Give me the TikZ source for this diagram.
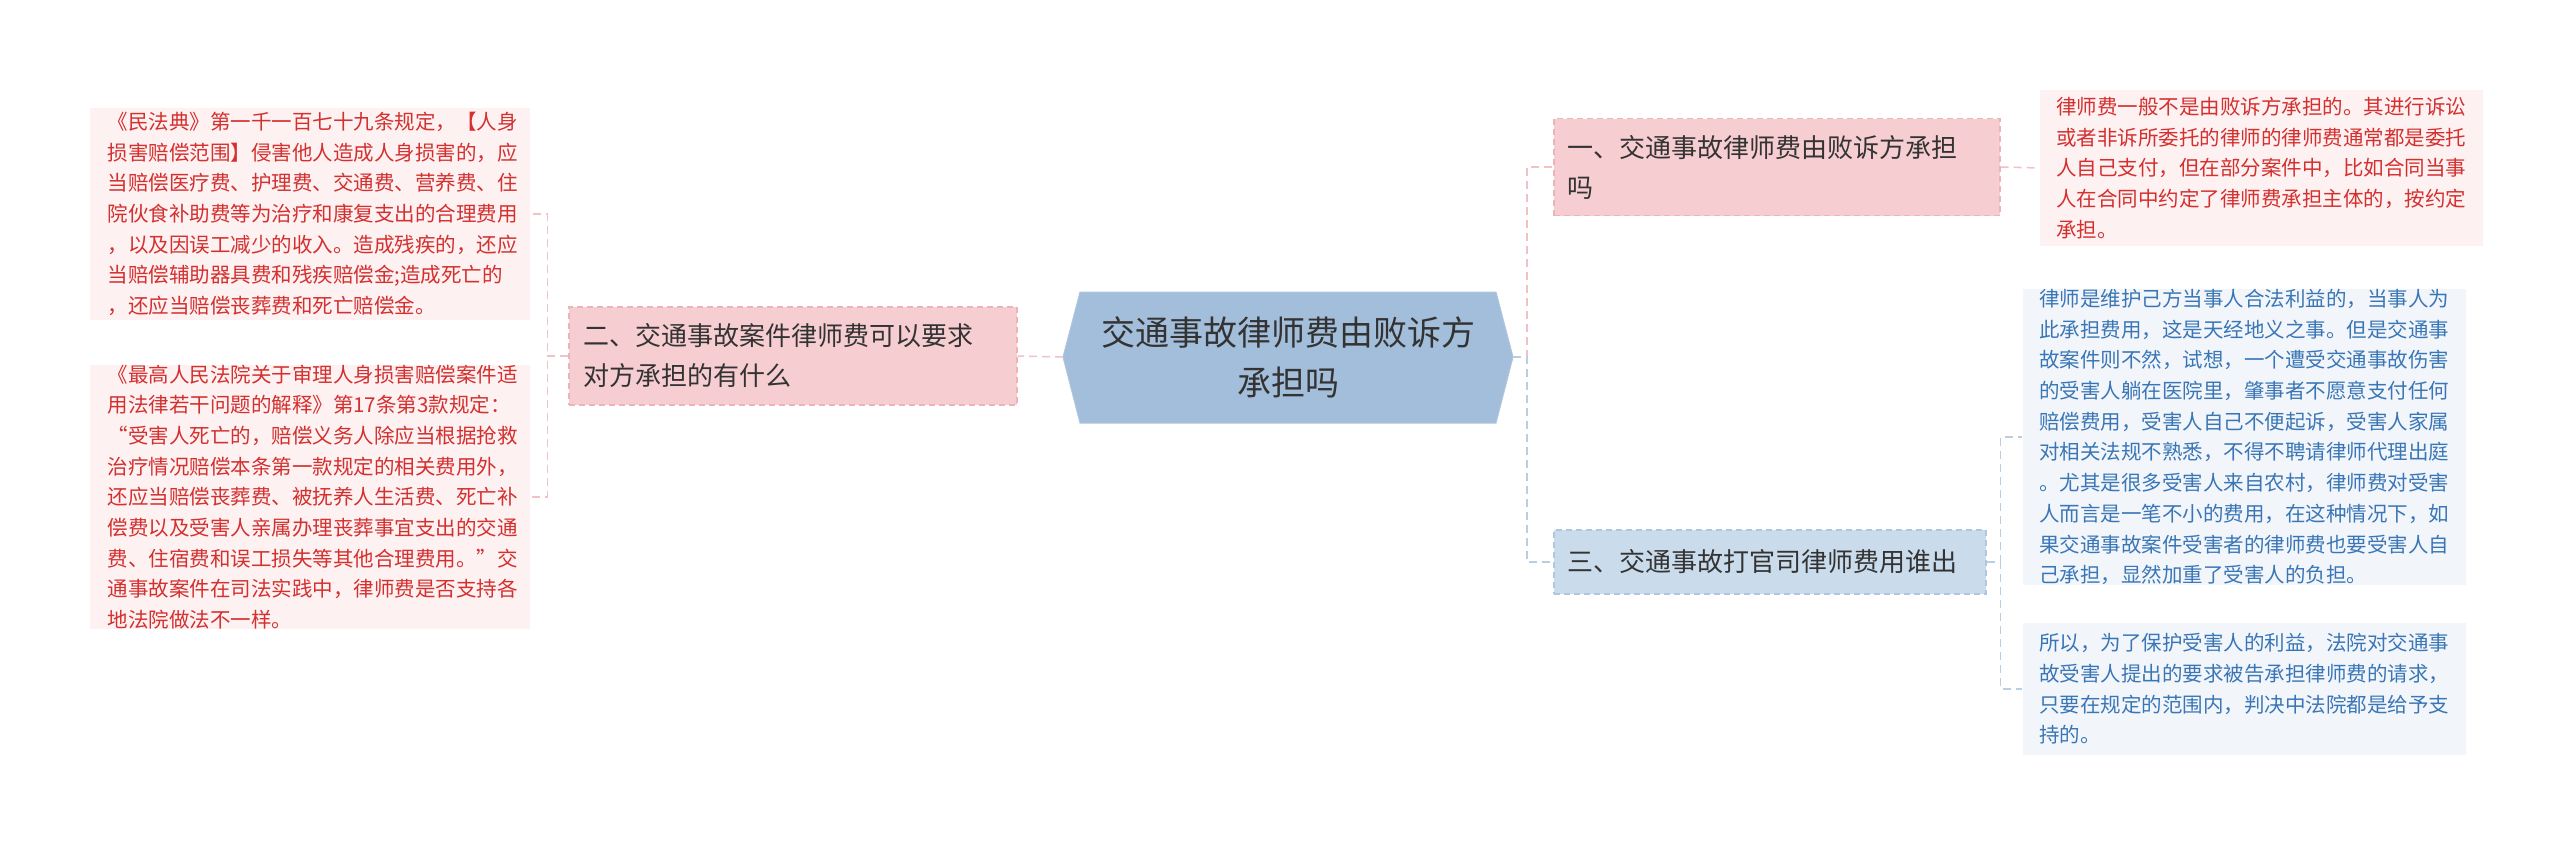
\documentclass[tikz,border=0pt]{standalone}
\usepackage{fontspec}
\setmainfont{Noto Sans CJK SC}
\begin{document}
\definecolor{leafred}{HTML}{FDF1F1}
\definecolor{txtred}{HTML}{D3302F}
\definecolor{branchpink}{HTML}{F6CDD0}
\definecolor{branchpinkb}{HTML}{EDB3B8}
\definecolor{branchblue}{HTML}{CADCEC}
\definecolor{branchblueb}{HTML}{AFC6DE}
\definecolor{leafblue}{HTML}{F2F6FB}
\definecolor{txtblue}{HTML}{3A76B6}
\definecolor{centerblue}{HTML}{A3BEDA}
\definecolor{lnpink}{HTML}{F0C2C6}
\definecolor{lnblue}{HTML}{BACDE1}
\begin{tikzpicture}[x=1pt,y=-1pt,
  leafr/.style={fill=leafred,text=txtred,font=\fontsize{20.5}{30.7}\selectfont,align=left,inner sep=0pt,anchor=center},
  leafb/.style={fill=leafblue,text=txtblue,font=\fontsize{20.5}{30.7}\selectfont,align=left,inner sep=0pt,anchor=center},
  brp/.style={fill=branchpink,draw=branchpinkb,dash pattern=on 6pt off 4pt,line width=1.2pt,text=black!80,font=\fontsize{26}{40}\selectfont,align=left,inner sep=0pt},
  brb/.style={fill=branchblue,draw=branchblueb,dash pattern=on 6pt off 4pt,line width=1.2pt,text=black!80,font=\fontsize{26}{40}\selectfont,align=left,inner sep=0pt},
  cp/.style={draw=lnpink,dash pattern=on 8pt off 5pt,line width=1.5pt},
  cb/.style={draw=lnblue,dash pattern=on 8pt off 5pt,line width=1.5pt}]
\useasboundingbox (0,0) rectangle (2560,843);
\fill[white] (0,0) rectangle (2560,843);
% center hexagon
\fill[centerblue,draw=branchblueb,line width=1pt] (1063,357) -- (1080,292) -- (1496,292) -- (1513,357) -- (1496,423) -- (1080,423) -- cycle;
\node[font=\fontsize{34}{50}\selectfont,text=black!80,align=center] (c) at (1288,357) {交通事故律师费由败诉方\\承担吗};
\coordinate (cl) at (1063,357);
\coordinate (cr) at (1513,357);
% left branch
\node[brp,minimum width=448pt,minimum height=98pt,text width=420pt] (b2) at (793,356) {二、交通事故案件律师费可以要求\\对方承担的有什么};
\node[leafr,minimum width=440pt,minimum height=212pt,text width=405pt] (l1) at (310,214) {《民法典》第一千一百七十九条规定，【人身\\损害赔偿范围】侵害他人造成人身损害的，应\\当赔偿医疗费、护理费、交通费、营养费、住\\院伙食补助费等为治疗和康复支出的合理费用\\，以及因误工减少的收入。造成残疾的，还应\\当赔偿辅助器具费和残疾赔偿金;造成死亡的\\，还应当赔偿丧葬费和死亡赔偿金。};
\node[leafr,minimum width=440pt,minimum height=262pt,text width=405pt] (l2) at (310,497) {《最高人民法院关于审理人身损害赔偿案件适\\用法律若干问题的解释》第17条第3款规定：\\“受害人死亡的，赔偿义务人除应当根据抢救\\治疗情况赔偿本条第一款规定的相关费用外，\\还应当赔偿丧葬费、被抚养人生活费、死亡补\\偿费以及受害人亲属办理丧葬事宜支出的交通\\费、住宿费和误工损失等其他合理费用。”交\\通事故案件在司法实践中，律师费是否支持各\\地法院做法不一样。};
% right branches
\node[brp,minimum width=446pt,minimum height=97pt,text width=420pt] (b1) at (1777,167) {一、交通事故律师费由败诉方承担\\吗};
\node[leafr,minimum width=443pt,minimum height=156pt,text width=410pt] (r1) at (2261,168) {律师费一般不是由败诉方承担的。其进行诉讼\\或者非诉所委托的律师的律师费通常都是委托\\人自己支付，但在部分案件中，比如合同当事\\人在合同中约定了律师费承担主体的，按约定\\承担。};
\node[brb,minimum width=432pt,minimum height=64pt,text width=405pt] (b3) at (1770,562) {三、交通事故打官司律师费用谁出};
\node[leafb,minimum width=443pt,minimum height=293pt,text width=410pt] (r3a) at (2244,437) {律师是维护己方当事人合法利益的，当事人为\\此承担费用，这是天经地义之事。但是交通事\\故案件则不然，试想，一个遭受交通事故伤害\\的受害人躺在医院里，肇事者不愿意支付任何\\赔偿费用，受害人自己不便起诉，受害人家属\\对相关法规不熟悉，不得不聘请律师代理出庭\\。尤其是很多受害人来自农村，律师费对受害\\人而言是一笔不小的费用，在这种情况下，如\\果交通事故案件受害者的律师费也要受害人自\\己承担，显然加重了受害人的负担。};
\node[leafb,minimum width=443pt,minimum height=132pt,text width=410pt] (r3b) at (2244,689) {所以，为了保护受害人的利益，法院对交通事\\故受害人提出的要求被告承担律师费的请求，\\只要在规定的范围内，判决中法院都是给予支\\持的。};
% connectors
\draw[cp] (cl) -- (b2.east);
\draw[cp] (b2.west) -- ++(-21,0) |- (l1.east);
\draw[cp] (b2.west) -- ++(-21,0) |- (l2.east);
\draw[cp] (cr) -- ++(14,0) |- (b1.west);
\draw[cb] (cr) -- ++(14,0) |- (b3.west);
\draw[cp] (b1.east) -- (r1.west);
\draw[cb] (b3.east) -- ++(14,0) |- (r3a.west);
\draw[cb] (b3.east) -- ++(14,0) |- (r3b.west);
\end{tikzpicture}
\end{document}
